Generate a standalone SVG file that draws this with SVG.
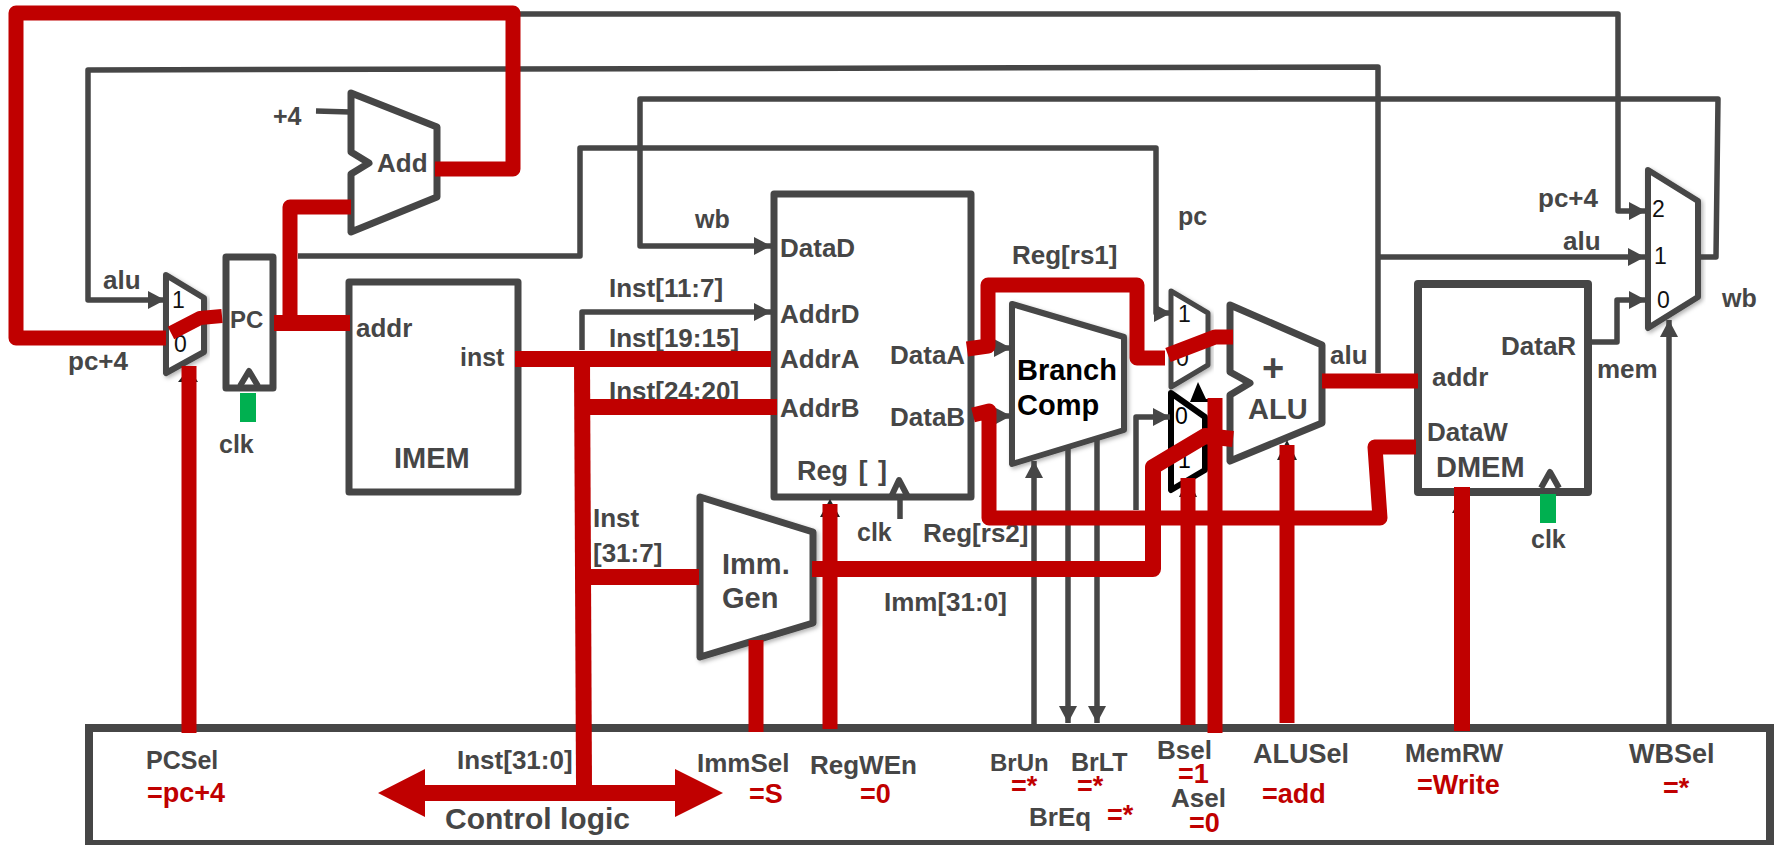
<svg xmlns="http://www.w3.org/2000/svg" width="1777" height="845" viewBox="0 0 1777 845">
<style>
text{font-family:"Liberation Sans",Arial,sans-serif;font-weight:700;fill:#464646;font-size:26px}
.big{font-size:29px}
.s25{font-size:25px}
.s24{font-size:24px}
.s27{font-size:27px}
.red{fill:#c00000;font-size:27px}
.reg{font-weight:400;fill:#111;font-size:23px}
.blk{fill:#000;font-size:29px}
.box{fill:#fff;stroke:#464646;stroke-width:7;stroke-linejoin:round}
.th{fill:#fff;stroke:#464646;stroke-width:6;stroke-linejoin:round}
.sh{filter:url(#sh)}
.g{fill:none;stroke:#464646;stroke-width:5.5;stroke-linejoin:round}
.r{fill:none;stroke:#c00000;stroke-width:15;stroke-linejoin:round}
.green{fill:#00b050}
.tick{fill:#222}
</style>
<defs>
<filter id="sh" x="-15%" y="-15%" width="130%" height="130%"><feDropShadow dx="2" dy="2" stdDeviation="2" flood-color="#000" flood-opacity="0.3"/></filter>
<marker id="a" markerUnits="userSpaceOnUse" markerWidth="18" markerHeight="18" refX="17" refY="9" orient="auto"><path d="M0 0L17 9L0 18Z" fill="#464646"/></marker>
</defs>
<rect width="1777" height="845" fill="#fff"/>

<g id="node-add"><path class="box" d="M351 93L437 127V197L351 232V174L369 163L351 152Z"/><text x="377" y="172">Add</text></g>
<g id="node-pcmux"><path class="th sh" d="M166 275L204 298V352L166 373Z"/><text class="reg" x="172" y="308">1</text><text class="reg" x="174" y="352">0</text></g>
<g id="node-pc"><rect class="box" x="226" y="257" width="47" height="131"/><path class="g" style="stroke-width:6" d="M240 386L249 371L258 386"/><rect class="green" x="240" y="393" width="16" height="29"/><text class="s24" x="230" y="328">PC</text></g>
<g id="node-imem"><rect class="box" x="349" y="282" width="169" height="210"/><text x="356" y="337">addr</text><text class="s25" x="460" y="366">inst</text><text class="big" x="394" y="468">IMEM</text></g>
<g id="node-reg"><rect class="box" x="774" y="194" width="197" height="303"/><text x="780" y="257">DataD</text><text x="780" y="323">AddrD</text><text x="780" y="368">AddrA</text><text x="780" y="417">AddrB</text><text x="890" y="364">DataA</text><text x="890" y="426">DataB</text><text class="s27" style="word-spacing:3px" x="797" y="480">Reg [ ]</text><path class="g" style="stroke-width:6" d="M891 497L899 480L908 497"/><path class="g" d="M900 497V519"/></g>
<g id="node-immgen"><path class="box sh" d="M700 497L813 532V623L700 657Z"/><text class="big" x="722" y="574">Imm.</text><text class="big" x="722" y="608">Gen</text></g>
<g id="node-branch"><path class="box sh" style="stroke-width:6" d="M1012 304L1124 337V430L1012 464Z"/><text class="blk" x="1017" y="380">Branch</text><text class="blk" x="1017" y="415">Comp</text></g>
<g id="node-amux"><path class="th sh" style="stroke-width:5" d="M1171 291L1208 313V365L1171 387Z"/><text class="reg" x="1178" y="322">1</text><text class="reg" x="1176" y="366">0</text></g>
<g id="node-bmux"><path class="th" style="stroke:#000" d="M1171 393L1205 417V470L1171 490Z"/><text class="reg" style="fill:#000" x="1175" y="424">0</text><text class="reg" style="fill:#000" x="1178" y="468">1</text></g>
<g id="node-alu"><path class="box" d="M1230 305L1322 345V423L1230 461V395L1250 383L1230 372Z"/><text class="big" style="font-size:38px" x="1262" y="381">+</text><text class="big" x="1248" y="419">ALU</text></g>
<g id="node-dmem"><rect class="box" style="stroke-width:8" x="1418" y="284" width="170" height="208"/><text x="1432" y="386">addr</text><text x="1501" y="355">DataR</text><text x="1427" y="441">DataW</text><text class="big" x="1436" y="477">DMEM</text><path class="g" style="stroke-width:6" d="M1541 488L1550 472L1559 488"/><rect class="green" x="1540" y="494" width="16" height="29"/></g>
<g id="node-wbmux"><path class="th sh" d="M1648 170L1698 201V297L1648 328Z"/><text class="reg" x="1652" y="217">2</text><text class="reg" x="1654" y="264">1</text><text class="reg" x="1657" y="308">0</text></g>
<g id="node-control"><rect x="89" y="728" width="1681" height="116" fill="#fff" stroke="#464646" stroke-width="8"/>
<text class="s25" x="146" y="769">PCSel</text><text class="red" x="147" y="802">=pc+4</text>
<text x="457" y="769">Inst[31:0]</text><text style="font-size:30px" x="445" y="829">Control logic</text>
<text x="697" y="772">ImmSel</text><text class="red" x="749" y="803">=S</text>
<text x="810" y="774">RegWEn</text><text class="red" x="860" y="803">=0</text>
<text class="s24" x="990" y="771">BrUn</text><text class="red" x="1011" y="795">=*</text>
<text class="s25" x="1071" y="771">BrLT</text><text class="red" x="1077" y="795">=*</text>
<text x="1029" y="826">BrEq</text><text class="red" x="1107" y="824">=*</text>
<text x="1157" y="759">Bsel</text><text class="red" x="1178" y="783">=1</text>
<text x="1171" y="807">Asel</text><text class="red" x="1189" y="832">=0</text>
<text class="s27" x="1253" y="763">ALUSel</text><text class="red" x="1262" y="803">=add</text>
<text class="s25" x="1405" y="762">MemRW</text><text class="red" x="1417" y="794">=Write</text>
<text class="s27" x="1629" y="763">WBSel</text><text class="red" x="1663" y="797">=*</text></g>

<g id="labels">
<text class="s25" x="273" y="125">+4</text><text x="103" y="289">alu</text><text x="68" y="370">pc+4</text><text class="s25" x="219" y="453">clk</text>
<text class="s25" x="695" y="228">wb</text><text x="609" y="297">Inst[11:7]</text><text x="609" y="347">Inst[19:15]</text><text x="609" y="400">Inst[24:20]</text>
<text x="593" y="527">Inst</text><text x="593" y="562">[31:7]</text><text class="s25" x="857" y="541">clk</text><text x="923" y="542">Reg[rs2]</text><text x="884" y="611">Imm[31:0]</text>
<text x="1012" y="264">Reg[rs1]</text><text class="s25" x="1178" y="225">pc</text><text x="1330" y="364">alu</text>
<text x="1538" y="207">pc+4</text><text x="1563" y="250">alu</text><text x="1597" y="378">mem</text><text class="s25" x="1722" y="307">wb</text><text class="s25" x="1531" y="548">clk</text>
</g>

<g id="connectors">
<path class="g" d="M520 14H1618V211H1646" marker-end="url(#a)"/>
<path class="g" d="M1378 373V67L88 70V300H165" marker-end="url(#a)"/>
<path class="g" d="M1378 257H1645" marker-end="url(#a)"/>
<path class="g" d="M1700 257H1716L1718 99H640V246H771" marker-end="url(#a)"/>
<path class="g" d="M298 256H580V148H1156V313H1171" marker-end="url(#a)"/>
<path class="g" d="M1590 342H1617V300H1646" marker-end="url(#a)"/>
<path class="g" d="M1669 724V320" marker-end="url(#a)"/>
<path class="g" d="M316 111L350 112"/>
<path class="g" d="M582 350V312H771" marker-end="url(#a)"/>
<path class="g" d="M985 348H1011" marker-end="url(#a)"/>
<path class="g" d="M990 416H1011" marker-end="url(#a)"/>
<path class="g" d="M1034 724V461" marker-end="url(#a)"/>
<path class="g" d="M1068 445V723" marker-end="url(#a)"/>
<path class="g" d="M1097 438V723" marker-end="url(#a)"/>
<path class="g" d="M1136 510V417H1170" marker-end="url(#a)"/>
<path d="M1198 382L1206 399H1215V402H1190Z" fill="#000"/>
<path class="tick" d="M830 499L840 517H820Z"/>
<path class="tick" d="M1287 440L1297 460H1277Z"/>
<path class="tick" d="M1462 495L1452 513H1470Z"/>
<path class="tick" d="M189 368L178 382H198Z"/>
<path class="tick" d="M1188 478L1179 497H1197Z"/>

<path class="r" d="M435 169H513V13H16V338H166"/>
<path class="r" style="stroke-width:14" d="M171 333L200 318L222 316"/>
<path class="r" style="stroke-width:16" d="M274 323H350"/>
<path class="r" d="M290 323V207H351"/>
<path class="r" d="M189 366V733"/>
<path class="r" style="stroke-width:16" d="M515 359H771"/>
<path class="r" style="stroke-width:16" d="M582 359L584 785"/>
<path class="r" style="stroke-width:16" d="M583 407H777"/>
<path class="r" style="stroke-width:16" d="M583 577H699"/>
<path d="M378 793L425 769V785H675V769L723 793L675 817V801H425V817Z" fill="#c00000"/>
<path class="r" d="M756 640V732"/>
<path class="r" d="M830 504V729"/>
<path class="r" style="stroke-width:16" d="M812 569H1153V467L1205 436L1233 439"/>
<path class="r" d="M967 349L988 346V285H1137V358H1165"/>
<path class="r" d="M973 415L989 411V518H1380L1375 447L1416 447"/>
<path class="r" d="M1168 355L1215 337H1233"/>
<path class="r" d="M1188 478V725"/>
<path class="r" d="M1215 398V733"/>
<path class="r" d="M1287 445V723"/>
<path class="r" d="M1322 381H1418"/>
<path class="r" style="stroke-width:16" d="M1462 487V731"/>
</g>
</svg>
